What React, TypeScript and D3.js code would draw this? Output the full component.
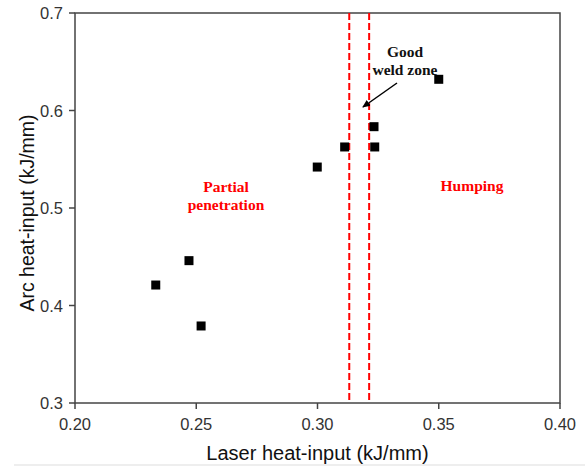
import React from "react";
import * as d3 from "d3";

const laserHeat = [0.2333, 0.247, 0.252, 0.2999, 0.3112, 0.3233, 0.3236, 0.35];
const arcHeat = [0.421, 0.446, 0.379, 0.542, 0.5626, 0.5834, 0.5626, 0.632];
const xTicks = [0.2, 0.25, 0.3, 0.35, 0.4];
const yTicks = [0.3, 0.4, 0.5, 0.6, 0.7];
const zoneBounds = [0.3131, 0.3213];

const W = 585, H = 466;
const L = 75, R = 560, T = 13, B = 403;

export default function App() {
  const x = d3.scaleLinear().domain([0.2, 0.4]).range([L, R]);
  const y = d3.scaleLinear().domain([0.3, 0.7]).range([B, T]);
  const pts = laserHeat.map((v, i) => ({ x: v, y: arcHeat[i] }));
  const axisCol = "#444";
  const sans = "'Liberation Sans', Arial, sans-serif";
  const serif = "'Liberation Serif', 'Times New Roman', serif";
  return (
    <svg width={W} height={H} style={{ position: "absolute", left: 0, top: 0, background: "#fff" }}>
      <defs>
        <marker id="ah" markerWidth="8" markerHeight="8" refX="7" refY="4" orient="auto" markerUnits="userSpaceOnUse">
          <path d="M0,0.5 L8,4 L0,7.5 Z" fill="#000" />
        </marker>
      </defs>
      <rect x={0} y={0} width={W} height={H} fill="#fff" />
      <rect x={L} y={T} width={R - L} height={B - T} fill="none" stroke={axisCol} strokeWidth={1.5} />
      {xTicks.map((t) => (
        <g key={"x" + t}>
          <line x1={x(t)} x2={x(t)} y1={B} y2={B + 6} stroke={axisCol} strokeWidth={1.5} />
          <text x={x(t)} y={430} textAnchor="middle" fontFamily={sans} fontSize={16.5} fill="#333">
            {t.toFixed(2)}
          </text>
        </g>
      ))}
      {yTicks.map((t) => (
        <g key={"y" + t}>
          <line x1={L - 6} x2={L} y1={y(t)} y2={y(t)} stroke={axisCol} strokeWidth={1.5} />
          <text x={63} y={y(t) + 6} textAnchor="end" fontFamily={sans} fontSize={16.5} fill="#333">
            {t.toFixed(1)}
          </text>
        </g>
      ))}
      <text x={317.5} y={460} textAnchor="middle" fontFamily={sans} fontSize={20} fill="#111">
        Laser heat-input (kJ/mm)
      </text>
      <text transform={`translate(34,213) rotate(-90)`} textAnchor="middle" fontFamily={sans} fontSize={19.5} fill="#111">
        Arc heat-input (kJ/mm)
      </text>
      {zoneBounds.map((b) => (
        <line key={"z" + b} x1={x(b)} x2={x(b)} y1={T} y2={B} stroke="#ff0000" strokeWidth={2} strokeDasharray="7,3" />
      ))}
      {pts.map((p, i) => (
        <rect key={i} x={x(p.x) - 4.5} y={y(p.y) - 4.5} width={9} height={9} fill="#000" />
      ))}
      <text x={405} y={57} textAnchor="middle" fontFamily={serif} fontWeight="bold" fontSize={15.5} fill="#111">Good</text>
      <text x={405} y={74.5} textAnchor="middle" fontFamily={serif} fontWeight="bold" fontSize={15.5} fill="#111">weld zone</text>
      <line x1={397} y1={83} x2={363} y2={107} stroke="#000" strokeWidth={1.5} markerEnd="url(#ah)" />
      <text x={226} y={191.5} textAnchor="middle" fontFamily={serif} fontWeight="bold" fontSize={15.5} fill="#ff0000">Partial</text>
      <text x={226} y={209.5} textAnchor="middle" fontFamily={serif} fontWeight="bold" fontSize={15.5} fill="#ff0000">penetration</text>
      <text x={472} y={191} textAnchor="middle" fontFamily={serif} fontWeight="bold" fontSize={15.5} fill="#ff0000">Humping</text>
      <line x1={14} x2={W} y1={465} y2={465} stroke="#ddd" strokeWidth={1} />
    </svg>
  );
}
